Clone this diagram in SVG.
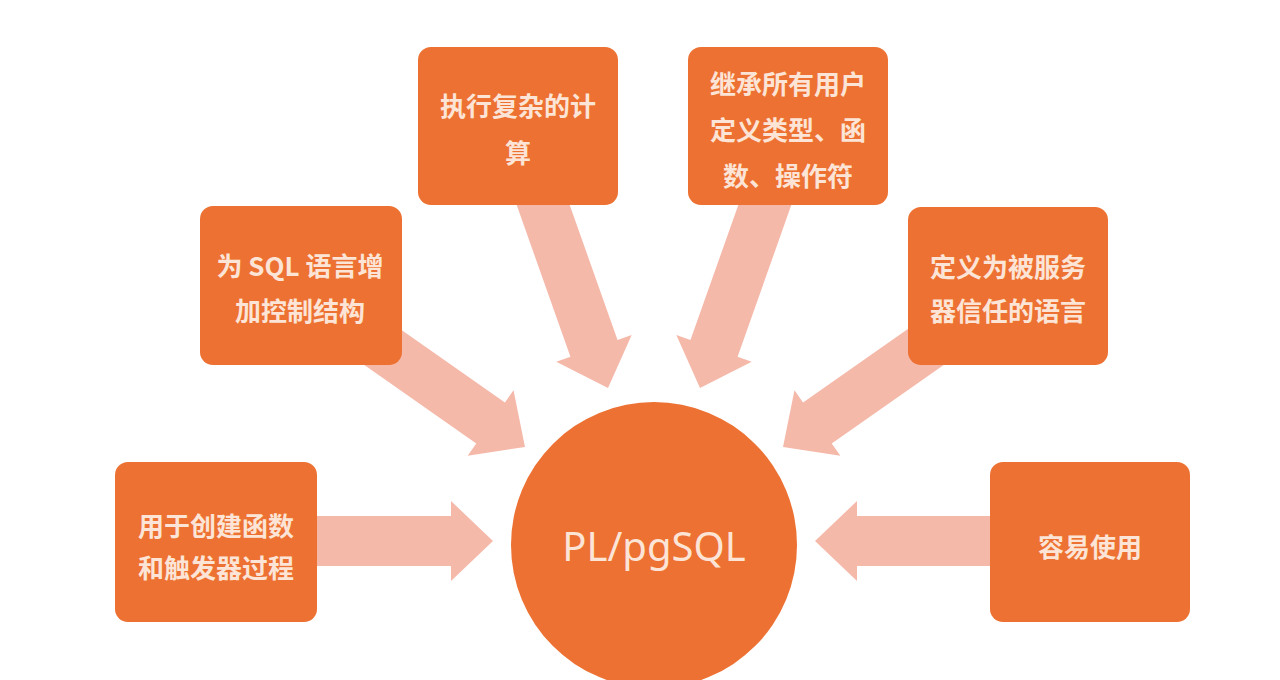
<svg xmlns="http://www.w3.org/2000/svg" width="1280" height="680" viewBox="0 0 1280 680">
<style>
.box{fill:#ED7132;}
.arrow{fill:#F5B9AA;}
.t{fill:#FCE4D6;font-family:"Noto Sans CJK SC","Noto Sans",sans-serif;font-size:26px;font-weight:bold;text-anchor:middle;dominant-baseline:central;}
.c{fill:#FCE4D6;font-family:"Noto Sans","Open Sans",sans-serif;font-size:40px;text-anchor:middle;dominant-baseline:central;}
</style>
<defs>
<polygon id="arr" points="0,0 -42,-40 -42,-25 -240,-25 -240,25 -42,25 -42,40"/>
</defs>
<rect width="1280" height="680" fill="#ffffff"/>
<g id="connectors">
<use href="#arr" class="arrow" transform="translate(493,541)"/>
<use href="#arr" class="arrow" transform="translate(815,541) rotate(180)"/>
<use href="#arr" class="arrow" transform="translate(525,447) rotate(35)"/>
<use href="#arr" class="arrow" transform="translate(783,447) rotate(145)"/>
<use href="#arr" class="arrow" transform="translate(608,388) rotate(70.5)"/>
<use href="#arr" class="arrow" transform="translate(700,388) rotate(109.5)"/>
</g>
<g id="center">
<circle cx="654" cy="545" r="143" class="box"/>
<text x="654" y="545" class="c">PL/pgSQL</text>
</g>
<g id="n-compute">
<rect x="418" y="47" width="200" height="158" rx="13" class="box"/>
<text x="518" y="104" class="t">执行复杂的计</text>
<text x="518" y="151" class="t">算</text>
</g>
<g id="n-inherit">
<rect x="688" y="47" width="200" height="158" rx="13" class="box"/>
<text x="788" y="82" class="t">继承所有用户</text>
<text x="788" y="128" class="t">定义类型、函</text>
<text x="788" y="174" class="t">数、操作符</text>
</g>
<g id="n-control">
<rect x="200" y="206" width="202" height="159" rx="13" class="box"/>
<text x="300" y="264" class="t">为 SQL 语言增</text>
<text x="300" y="309" class="t">加控制结构</text>
</g>
<g id="n-trusted">
<rect x="908" y="207" width="200" height="158" rx="13" class="box"/>
<text x="1008" y="265" class="t">定义为被服务</text>
<text x="1008" y="309" class="t">器信任的语言</text>
</g>
<g id="n-create">
<rect x="115" y="462" width="202" height="160" rx="13" class="box"/>
<text x="216" y="524" class="t">用于创建函数</text>
<text x="216" y="566" class="t">和触发器过程</text>
</g>
<g id="n-easy">
<rect x="990" y="462" width="200" height="160" rx="13" class="box"/>
<text x="1090" y="545" class="t">容易使用</text>
</g>
</svg>
